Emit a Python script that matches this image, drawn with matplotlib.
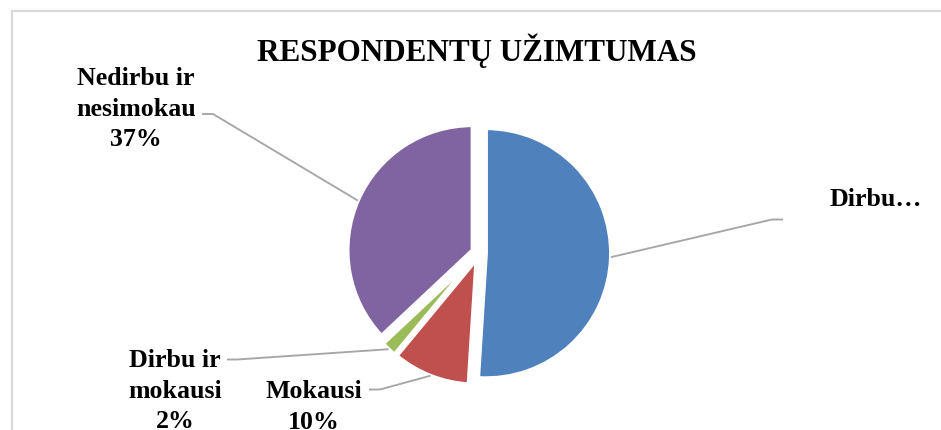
import numpy as np
import matplotlib
matplotlib.use('Agg')
import matplotlib.pyplot as plt

title = "RESPONDENTŲ UŽIMTUMAS"
categories = ["Dirbu", "Mokausi", "Dirbu ir mokausi", "Nedirbu ir nesimokau"]
values = [51, 10, 2, 37]
colors = ["#4F81BD", "#C0504D", "#9BBB59", "#8064A2"]
label_texts = ["Dirbu…", "Mokausi\n10%", "Dirbu ir\nmokausi\n2%", "Nedirbu ir\nnesimokau\n37%"]

W, H = 941, 431
FONT = ['Liberation Serif', 'DejaVu Serif']

fig = plt.figure(figsize=(W / 100, H / 100), dpi=100)
ax = fig.add_axes([0, 0, 1, 1])


def Y(py):
    return H - py


# pie (pixel-like data coordinates, y up)
center = (479, Y(254))
R = 125
wedges, _ = ax.pie(values, colors=colors, startangle=90, counterclock=False,
                   explode=[7] * len(values), radius=R, center=center,
                   wedgeprops=dict(edgecolor='white', linewidth=2.8))
ax.set_xlim(0, W)
ax.set_ylim(0, H)
ax.set_aspect('equal', adjustable='datalim')
ax.axis('off')

# outer chart frame
ax.plot([12, 12, W + 10], [-10, Y(12), Y(12)], color='#d9d9d9', lw=1.6,
        clip_on=False, solid_joinstyle='miter')

# title
ax.text(477, Y(33), title, ha='center', va='top', fontsize=22.4,
        fontweight='bold', family=FONT)

# labels: (center x, top y) and leader (start, elbow) in px
label_pos = [(876, 188), (314, 380), (175, 349), (136, 67)]
leader_start = [(783, 220.5), (369, 390.5), (227, 360.5), (202, 115)]
leader_elbow = [(772, 220.5), (380, 390.5), (237, 360.5), (213, 115)]

for w, txt, (lx, ly), (sx, sy), (ex, ey) in zip(wedges, label_texts, label_pos,
                                                 leader_start, leader_elbow):
    th = np.deg2rad((w.theta1 + w.theta2) / 2)
    cx, cy = w.center
    px, py = cx + w.r * np.cos(th), cy + w.r * np.sin(th)
    ax.plot([sx, ex, px], [Y(sy), Y(ey), py], color='#a6a6a6', lw=1.35,
            solid_capstyle='butt')
    ax.text(lx, Y(ly), txt, ha='center', va='top', ma='center', fontsize=18.6,
            fontweight='bold', family=FONT, linespacing=1.42)

fig.savefig('out.png', dpi=100)
